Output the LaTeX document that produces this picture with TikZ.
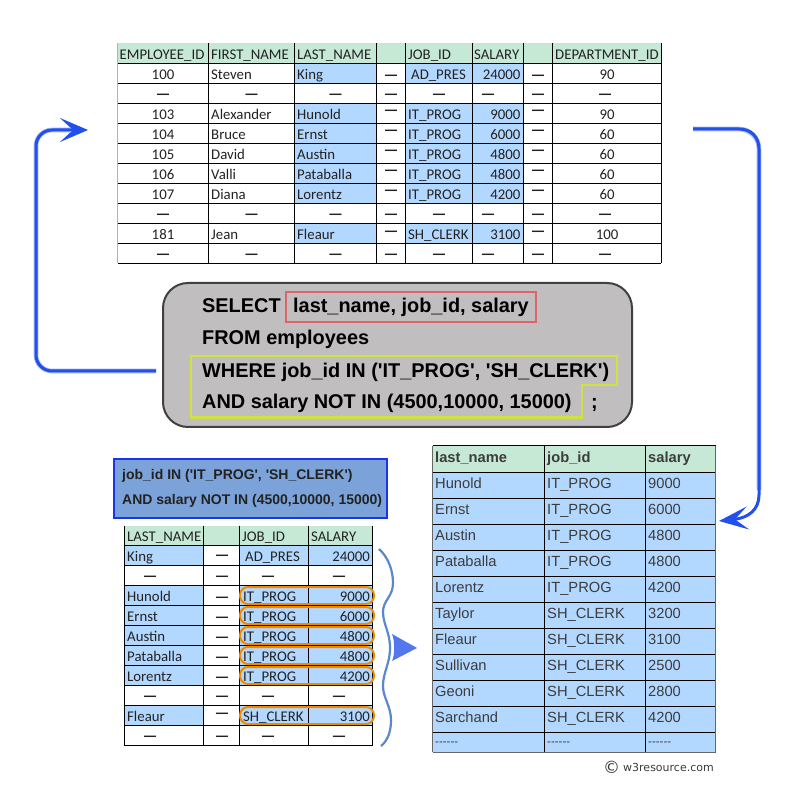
\documentclass[tikz,border=0pt]{standalone}
\usepackage{fontspec}
\setmainfont{Liberation Sans}
\newfontfamily\calfont{Carlito}
\newfontfamily\vfont{DejaVu Sans}
\usetikzlibrary{arrows.meta}
\definecolor{hdrgreen}{HTML}{C6E9D6}
\definecolor{cellblue}{HTML}{B3D8FF}
\definecolor{flowblue}{HTML}{2250EC}
\definecolor{glowblue}{HTML}{A4B6F6}
\definecolor{bracecol}{HTML}{5B88CC}
\definecolor{headcol}{HTML}{5577EE}
\definecolor{panelgrey}{HTML}{C0BEBF}
\definecolor{redbox}{HTML}{E0636B}
\definecolor{yelbox}{HTML}{CFE23F}
\definecolor{filterfill}{HTML}{7BA3D9}
\definecolor{filterline}{HTML}{1A35E8}
\definecolor{pillcol}{HTML}{F08A00}
\definecolor{inkcol}{HTML}{222222}
\definecolor{tgrey}{HTML}{3C3C3C}
\newcommand\qs{\textquotesingle}
\tikzset{
 x=1pt,y=-1pt,
 tl/.style={anchor=base west,inner sep=0pt,text=inkcol,font=\calfont\fontsize{14.8}{14.8}\selectfont},
 tc/.style={tl,anchor=base},
 tr/.style={tl,anchor=base east},
 dashcell/.style={tl,anchor=center,yshift=-2.5pt,font=\calfont\bfseries\fontsize{16.5}{16.5}\selectfont},
 grid/.style={draw=black,line width=1pt},
 sqltext/.style={anchor=base west,inner sep=0pt,font=\bfseries\fontsize{19.9}{19.9}\selectfont},
 filtertext/.style={anchor=base west,inner sep=0pt,font=\bfseries\fontsize{14}{14}\selectfont,text=inkcol},
 webtext/.style={anchor=base west,inner sep=0pt,text=tgrey,font=\fontsize{14.7}{14.7}\selectfont},
 webhead/.style={webtext,font=\bfseries\fontsize{14.7}{14.7}\selectfont},
 webdash/.style={webtext,font=\fontsize{11.5}{11.5}\selectfont},
 flowline/.style={draw=flowblue,line width=3pt},
 flowglow/.style={draw=glowblue,line width=4.6pt},
 pill/.style={draw=pillcol,line width=2pt,rounded corners=8pt},
}
\begin{document}
\begin{tikzpicture}
\path[use as bounding box,fill=white] (0,0) rectangle (812,794);

%% ===== Table 1 =====
\fill[hdrgreen] (117.5,43.5) rectangle (661,63.5);
\foreach \r in {63.5,103.5,123.5,143.5,163.5,183.5,223.5}{
 \fill[cellblue] (294.5,\r) rectangle (376.5,\r+20);
 \fill[cellblue] (405.5,\r) rectangle (523.5,\r+20);
}
\foreach \x in {208.5,294.5,376.5,405.5,472.5,523.5,552.5,661}{\draw[grid] (\x,43.5) -- (\x,263.5);}
\foreach \y in {63.5,83.5,...,263.5}{\draw[grid] (117.5,\y) -- (661,\y);}
\draw[draw=black!30,line width=1pt] (117.5,43.5) -- (117.5,263.5);

\node[tl] (h1a) at (119.5,59.5) {EMPLOYEE\_ID};
\node[tl] (h1b) at (211,59.5) {FIRST\_NAME};
\node[tl] (h1c) at (297,59.5) {LAST\_NAME};
\node[tl] (h1d) at (408,59.5) {JOB\_ID};
\node[tl] (h1e) at (474,59.5) {SALARY};
\node[tl] (h1f) at (555,59.5) {DEPARTMENT\_ID};

\foreach \n/\y/\ida/\fn/\ln/\jx/\jb/\sal/\dep/\dy in {
 a/79.5/100/Steven/King/411/AD\_PRES/24000/90/75,
 b/119.5/103/Alexander/Hunold/408/IT\_PROG/9000/90/110.5,
 c/139.5/104/Bruce/Ernst/408/IT\_PROG/6000/60/130.5,
 d/159.5/105/David/Austin/408/IT\_PROG/4800/60/150.5,
 e/179.5/106/Valli/Pataballa/408/IT\_PROG/4800/60/170.5,
 f/199.5/107/Diana/Lorentz/408/IT\_PROG/4200/60/190.5,
 g/239.5/181/Jean/Fleaur/408/SH\_CLERK/3100/100/231}{
 \node[tc] (p\n id) at (163,\y) {\ida};
 \node[tl] (p\n fn) at (211,\y) {\fn};
 \node[tl] (p\n ln) at (297,\y) {\ln};
 \node[tl] (p\n jb) at (\jx,\y) {\jb};
 \node[tr] (p\n sa) at (520.5,\y) {\sal};
 \node[tc] (p\n de) at (607,\y) {\dep};
 \node[dashcell] (p\n da) at (391,\dy) {—};
 \node[dashcell] (p\n db) at (538,\dy) {—};
}
\foreach \n/\y in {h/94.5,i/214.5,j/254.5}{
 \foreach \c/\x in {a/163,b/251.5,c/335.5,d/391,e/439,f/488,g/538,k/605}{
  \node[dashcell] (q\n\c) at (\x,\y) {—};
 }
}

%% ===== SQL panel =====
\node[draw=black!75,line width=2pt,fill=panelgrey,rounded corners=25pt,minimum width=469pt,minimum height=144pt,inner sep=0pt] (panel) at (397.5,355) {};
\node[draw=redbox,line width=2.4pt,minimum width=250pt,minimum height=30pt,inner sep=0pt] (selbox) at (411,307) {};
\draw[draw=yelbox,line width=2.4pt] (191,356) -- (617,356) -- (617,385) -- (582,385) -- (582,417.5) -- (191,417.5) -- cycle;
\node[sqltext] (s1) at (202,313) {SELECT};
\node[sqltext] (s1b) at (293,313) {last\_name, job\_id, salary};
\node[sqltext] (s2) at (202,345) {FROM employees};
\node[sqltext] (s3) at (202,378) {WHERE job\_id IN (\qs IT\_PROG\qs, \qs SH\_CLERK\qs)};
\node[sqltext] (s4) at (202,409) {AND salary NOT IN (4500,10000, 15000)};
\node[sqltext] (s5) at (591,409) {;};

%% ===== Flow arrows =====
\coordinate (la) at (156,371);
\coordinate (lb) at (88,130);
\coordinate (ra) at (693,129);
\coordinate (rb) at (719,521);
\draw[flowglow,rounded corners=16pt] (la) -- (36,371) -- (36,130) -- (70,130);
\draw[flowline,rounded corners=16pt,-{Stealth[length=28pt,width=24pt,inset=13pt]}] (la) -- (36,371) -- (36,130) -- (lb);
\draw[flowglow,rounded corners=20pt] (ra) -- (759,129) -- (759,490);
\draw[flowline,-{Stealth[length=29pt,width=23pt,inset=13pt]}] (ra) -- (739,129) .. controls (751,129) and (759,137) .. (759,149) -- (759,495) .. controls (759,510) and (748,518) .. (rb);

%% ===== Filter box =====
\node[draw=filterline,fill=filterfill,line width=2pt,minimum width=273pt,minimum height=58pt,inner sep=0pt] (filter) at (250,488.5) {};
\node[filtertext] (f1) at (122,479) {job\_id IN (\qs IT\_PROG\qs, \qs SH\_CLERK\qs)};
\node[filtertext] (f2) at (122,504) {AND salary NOT IN (4500,10000, 15000)};

%% ===== Table 2 =====
\fill[hdrgreen] (124.5,525.5) rectangle (372.5,545.5);
\foreach \r in {545.5,585.5,605.5,625.5,645.5,665.5,705.5}{
 \fill[cellblue] (124.5,\r) rectangle (203.5,\r+20);
 \fill[cellblue] (239.5,\r) rectangle (372.5,\r+20);
}
\foreach \x in {124.5,203.5,239.5,308.5,372.5}{\draw[grid] (\x,525.5) -- (\x,745.5);}
\foreach \y in {545.5,565.5,...,745.5}{\draw[grid] (124.5,\y) -- (372.5,\y);}

\node[tl] (h2a) at (127,541) {LAST\_NAME};
\node[tl] (h2b) at (242,541) {JOB\_ID};
\node[tl] (h2c) at (311,541) {SALARY};
\foreach \n/\y/\ln/\jx/\jb/\sal/\dy in {
 a/561/King/245/AD\_PRES/24000/555,
 b/601/Hunold/243/IT\_PROG/9000/597,
 c/621/Ernst/243/IT\_PROG/6000/617,
 d/641/Austin/243/IT\_PROG/4800/637,
 e/661/Pataballa/243/IT\_PROG/4800/657,
 f/681/Lorentz/243/IT\_PROG/4200/677,
 g/721/Fleaur/243/SH\_CLERK/3100/713}{
 \node[tl] (m\n ln) at (127,\y) {\ln};
 \node[tl] (m\n jb) at (\jx,\y) {\jb};
 \node[tr] (m\n sa) at (370,\y) {\sal};
 \node[dashcell] (m\n da) at (222,\dy) {—};
}
\foreach \n/\y in {h/576.5,i/696.5,j/736.5}{
 \foreach \c/\x in {a/150,b/222,c/268,d/339}{
  \node[dashcell] (r\n\c) at (\x,\y) {—};
 }
}
\foreach \n/\y in {b/595.5,c/615.5,d/635.5,e/655.5,f/675.5,g/715.5}{
 \node[pill,minimum width=134pt,minimum height=17pt,inner sep=0pt] (pill\n) at (307,\y) {};
}

%% ===== Brace and its head =====
\coordinate (ba) at (379,549);
\coordinate (bb) at (381,746);
\draw[draw=bracecol,line width=2.2pt] (ba) .. controls (388,557) and (393,570) .. (393,583)
 .. controls (393,597) and (383,600) .. (383,612)
 .. controls (383,624) and (390,632) .. (390,648)
 .. controls (390,664) and (383,672) .. (383,686)
 .. controls (383,698) and (391,706) .. (391,720)
 .. controls (391,733) and (387,741) .. (bb);
\fill[headcol] (417,648) -- (392,634) .. controls (395,642) and (395,654) .. (392,661) -- cycle;

%% ===== Table 3 =====
\fill[hdrgreen] (432.5,446) rectangle (715.7,472.3);
\fill[cellblue] (432.5,472.3) rectangle (715.7,752.3);
\foreach \x in {544.5,645}{\draw[grid] (\x,446) -- (\x,752.3);}
\foreach \y in {446,472.3,498.3,524.3,550.3,576.3,602.3,628.3,654.3,680.3,706.3,732.3}{\draw[grid] (432.5,\y) -- (715.7,\y);}
\draw[draw=black!60,line width=1pt] (432.5,752.3) -- (715.7,752.3);
\draw[draw=black!60,line width=1pt] (432.5,446) -- (432.5,752.3);
\draw[draw=black!60,line width=1pt] (715.7,446) -- (715.7,752.3);

\node[webhead] (h3a) at (435,462.6) {last\_name};
\node[webhead] (h3b) at (547,462.6) {job\_id};
\node[webhead] (h3c) at (648,462.6) {salary};
\foreach \n/\y/\ln/\jb/\sal in {
 a/488.4/Hunold/IT\_PROG/9000,
 b/514.4/Ernst/IT\_PROG/6000,
 c/540.4/Austin/IT\_PROG/4800,
 d/566.4/Pataballa/IT\_PROG/4800,
 e/592.4/Lorentz/IT\_PROG/4200,
 f/618.4/Taylor/SH\_CLERK/3200,
 g/644.4/Fleaur/SH\_CLERK/3100,
 h/670.4/Sullivan/SH\_CLERK/2500,
 i/696.4/Geoni/SH\_CLERK/2800,
 k/722.4/Sarchand/SH\_CLERK/4200}{
 \node[webtext] (w\n a) at (435,\y) {\ln};
 \node[webtext] (w\n b) at (547,\y) {\jb};
 \node[webtext] (w\n c) at (648,\y) {\sal};
}
\node[webdash] (wza) at (435,745) {-{}-{}-{}-{}-{}-};
\node[webdash] (wzb) at (547,745) {-{}-{}-{}-{}-{}-};
\node[webdash] (wzc) at (648,745) {-{}-{}-{}-{}-{}-};

%% ===== Credit =====
\node[anchor=base west,inner sep=0pt,text=tgrey,font=\vfont\fontsize{17}{17}\selectfont] (copy) at (603,773) {©};
\node[anchor=base west,inner sep=0pt,text=tgrey,font=\vfont\fontsize{11}{11}\selectfont] (site) at (623,771) {w3resource.com};
\end{tikzpicture}
\end{document}
